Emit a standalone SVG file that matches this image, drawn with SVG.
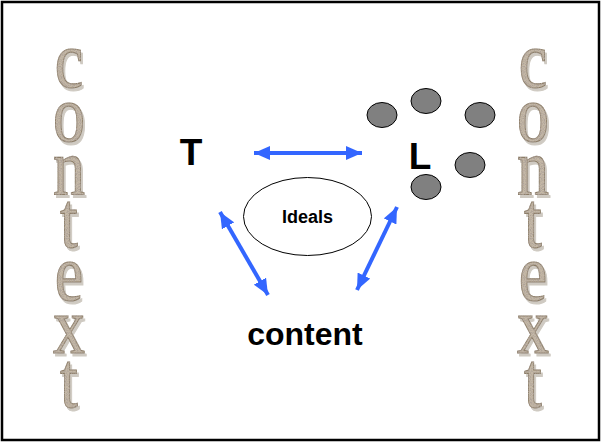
<svg xmlns="http://www.w3.org/2000/svg" width="602" height="443" viewBox="0 0 602 443">
<defs>
<style>
.ctx{font-family:"Liberation Serif","Times New Roman",serif;font-size:64px;fill:#c4b8a6;stroke:#8c7d66;stroke-width:0.9;writing-mode:vertical-rl;text-orientation:upright;letter-spacing:-29px}
.lbl{font-family:"Liberation Sans",Arial,sans-serif;font-weight:bold;fill:#000;text-anchor:middle}
.arr{stroke:#3366ff;stroke-width:4;fill:none;marker-start:url(#ah);marker-end:url(#ah)}
.dot{fill:#808080;stroke:#000;stroke-width:1}
</style>
<marker id="ah" viewBox="0 0 16 14" refX="16" refY="7" markerWidth="16" markerHeight="14" markerUnits="userSpaceOnUse" orient="auto-start-reverse">
<path d="M0,0 L16,7 L0,14 Z" fill="#3366ff"/>
</marker>
<filter id="tex" x="-20%" y="-10%" width="140%" height="120%">
<feOffset in="SourceAlpha" dx="2" dy="2" result="off"/>
<feFlood flood-color="#cfcac2" result="fc"/>
<feComposite in="fc" in2="off" operator="in" result="shadow"/>
<feTurbulence type="fractalNoise" baseFrequency="1.2" numOctaves="2" seed="5" result="n"/>
<feColorMatrix in="n" type="matrix" values="0 0 0 0 0.42  0 0 0 0 0.36  0 0 0 0 0.32  0 0 0 3 -1.2" result="sp"/>
<feComposite in="sp" in2="SourceGraphic" operator="in" result="spk"/>
<feMerge><feMergeNode in="shadow"/><feMergeNode in="SourceGraphic"/><feMergeNode in="spk"/></feMerge>
</filter>
</defs>
<rect x="2" y="2" width="597" height="438" fill="#fff" stroke="#000" stroke-width="2.5"/>

<g id="context-left">
<g transform="translate(69,0) scale(1,1.25)" filter="url(#tex)">
<text class="ctx" x="0" y="12.5">context</text>
</g>
</g>

<g id="context-right">
<g transform="translate(533,0) scale(1,1.25)" filter="url(#tex)">
<text class="ctx" x="0" y="12.5">context</text>
</g>
</g>

<g id="T"><text class="lbl" x="191" y="165" font-size="37">T</text></g>

<g id="L">
<text class="lbl" x="420" y="169" font-size="37">L</text>
<ellipse class="dot" cx="382" cy="115" rx="15" ry="12.5"/>
<ellipse class="dot" cx="426" cy="101" rx="15" ry="12.5"/>
<ellipse class="dot" cx="480" cy="115" rx="15" ry="12.5"/>
<ellipse class="dot" cx="470" cy="165" rx="15" ry="12.5"/>
<ellipse class="dot" cx="426" cy="187" rx="15" ry="12.5"/>
</g>

<g id="ideals">
<ellipse cx="307.5" cy="216.5" rx="64" ry="39" fill="#fff" stroke="#000" stroke-width="1"/>
<text class="lbl" x="307.5" y="223" font-size="18">Ideals</text>
</g>

<g id="content"><text class="lbl" x="305" y="345" font-size="32">content</text></g>

<g id="connectors">
<line class="arr" x1="254" y1="153" x2="362" y2="153"/>
<line class="arr" x1="220" y1="212" x2="268" y2="295"/>
<line class="arr" x1="397" y1="207" x2="357" y2="290"/>
</g>
</svg>
